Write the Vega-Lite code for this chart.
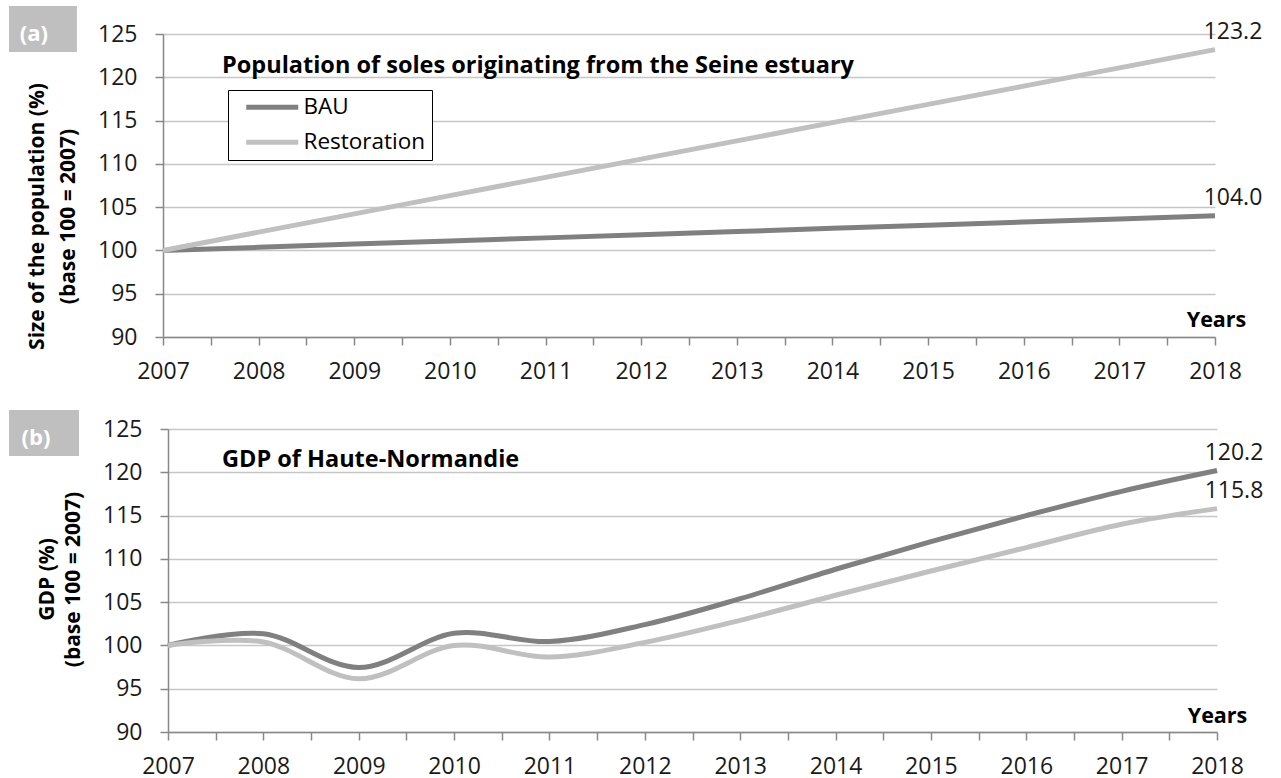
{
  "$schema": "https://vega.github.io/schema/vega-lite/v6.json",
  "padding": {"left": 9, "top": 6, "right": 5, "bottom": 5},
  "background": "white",
  "config": {
    "view": {"stroke": null},
    "font": "Open Sans",
    "axis": {
      "domainColor": "#888888", "domainWidth": 1.5,
      "tickColor": "#888888", "tickWidth": 1.5, "tickSize": 8,
      "labelFont": "Open Sans", "labelFontSize": 23, "labelColor": "#1a1a1a",
      "titleFont": "Open Sans", "titleColor": "#000000", "titleFontWeight": "bold",
      "gridColor": "#c6c6c6", "gridWidth": 1.5
    }
  },
  "datasets": {
    "sole": [
      {"year": 2007, "scenario": "BAU", "value": 100.0},
      {"year": 2008, "scenario": "BAU", "value": 100.36},
      {"year": 2009, "scenario": "BAU", "value": 100.73},
      {"year": 2010, "scenario": "BAU", "value": 101.09},
      {"year": 2011, "scenario": "BAU", "value": 101.45},
      {"year": 2012, "scenario": "BAU", "value": 101.82},
      {"year": 2013, "scenario": "BAU", "value": 102.18},
      {"year": 2014, "scenario": "BAU", "value": 102.55},
      {"year": 2015, "scenario": "BAU", "value": 102.91},
      {"year": 2016, "scenario": "BAU", "value": 103.27},
      {"year": 2017, "scenario": "BAU", "value": 103.64},
      {"year": 2018, "scenario": "BAU", "value": 104.0},
      {"year": 2007, "scenario": "Restoration", "value": 100.0},
      {"year": 2008, "scenario": "Restoration", "value": 102.11},
      {"year": 2009, "scenario": "Restoration", "value": 104.22},
      {"year": 2010, "scenario": "Restoration", "value": 106.33},
      {"year": 2011, "scenario": "Restoration", "value": 108.44},
      {"year": 2012, "scenario": "Restoration", "value": 110.55},
      {"year": 2013, "scenario": "Restoration", "value": 112.65},
      {"year": 2014, "scenario": "Restoration", "value": 114.76},
      {"year": 2015, "scenario": "Restoration", "value": 116.87},
      {"year": 2016, "scenario": "Restoration", "value": 118.98},
      {"year": 2017, "scenario": "Restoration", "value": 121.09},
      {"year": 2018, "scenario": "Restoration", "value": 123.2}
    ],
    "gdp": [
      {"year": 2007, "scenario": "BAU", "value": 100.0},
      {"year": 2008, "scenario": "BAU", "value": 101.35},
      {"year": 2009, "scenario": "BAU", "value": 97.45},
      {"year": 2010, "scenario": "BAU", "value": 101.4},
      {"year": 2011, "scenario": "BAU", "value": 100.45},
      {"year": 2012, "scenario": "BAU", "value": 102.4},
      {"year": 2013, "scenario": "BAU", "value": 105.4},
      {"year": 2014, "scenario": "BAU", "value": 108.8},
      {"year": 2015, "scenario": "BAU", "value": 112.0},
      {"year": 2016, "scenario": "BAU", "value": 115.0},
      {"year": 2017, "scenario": "BAU", "value": 117.8},
      {"year": 2018, "scenario": "BAU", "value": 120.2},
      {"year": 2007, "scenario": "Restoration", "value": 100.0},
      {"year": 2008, "scenario": "Restoration", "value": 100.4},
      {"year": 2009, "scenario": "Restoration", "value": 96.15},
      {"year": 2010, "scenario": "Restoration", "value": 100.0},
      {"year": 2011, "scenario": "Restoration", "value": 98.65},
      {"year": 2012, "scenario": "Restoration", "value": 100.35},
      {"year": 2013, "scenario": "Restoration", "value": 102.9},
      {"year": 2014, "scenario": "Restoration", "value": 105.8},
      {"year": 2015, "scenario": "Restoration", "value": 108.6},
      {"year": 2016, "scenario": "Restoration", "value": 111.3},
      {"year": 2017, "scenario": "Restoration", "value": 114.0},
      {"year": 2018, "scenario": "Restoration", "value": 115.8}
    ]
  },
  "resolve": {"legend": {"color": "independent"}},
  "spacing": 27,
  "vconcat": [
    {
      "width": 1052,
      "height": 303,
      "layer": [
        {
          "data": {"name": "sole"},
          "mark": {"type": "line", "strokeWidth": 5},
          "encoding": {
            "x": {
              "field": "year", "type": "quantitative",
              "scale": {"domain": [2007, 2018], "nice": false, "zero": false},
              "axis": {
                "values": [2007, 2007.5, 2008, 2008.5, 2009, 2009.5, 2010, 2010.5, 2011, 2011.5, 2012, 2012.5, 2013, 2013.5, 2014, 2014.5, 2015, 2015.5, 2016, 2016.5, 2017, 2017.5, 2018],
                "labelExpr": "datum.value % 1 === 0 ? format(datum.value, 'd') : ''",
                "labelFlush": false, "labelOverlap": false, "labelPadding": 15,
                "grid": false,
                "title": "Years", "titleFontSize": 21.5,
                "titleX": 1053, "titleY": -11, "titleAlign": "center", "titleBaseline": "alphabetic", "titleAnchor": "end"
              }
            },
            "y": {
              "field": "value", "type": "quantitative",
              "scale": {"domain": [90, 125], "nice": false, "zero": false},
              "axis": {
                "values": [90, 95, 100, 105, 110, 115, 120, 125],
                "format": "d", "labelPadding": 18, "grid": true,
                "title": ["Size of the population (%)", "(base 100 = 2007)"],
                "titleFontSize": 21, "titleLineHeight": 31,
                "titleAngle": -90, "titleX": -126, "titleY": 182,
                "titleAlign": "center", "titleBaseline": "middle"
              }
            },
            "color": {
              "field": "scenario", "type": "nominal",
              "scale": {"domain": ["BAU", "Restoration"], "range": ["#808080", "#c0c0c0"]},
              "legend": {
                "orient": "none", "legendX": 65, "legendY": 56, "title": null,
                "strokeColor": "#000000", "fillColor": "#ffffff", "padding": 6,
                "symbolType": "M-5.2,0L5.2,0", "symbolSize": 100, "symbolStrokeWidth": 5,
                "symbolOffset": 27, "labelFontSize": 22.5, "labelFont": "Open Sans",
                "labelColor": "#000000", "labelOffset": 20, "rowPadding": 12,
                "labelExpr": "datum.label + '\u00a0\u00a0\u00a0'"
              }
            }
          }
        },
        {
          "data": {"name": "sole"},
          "transform": [{"filter": "datum.year == 2018"}],
          "mark": {"type": "text", "dx": 18, "dy": -18, "fontSize": 23, "align": "center", "baseline": "middle", "color": "#1a1a1a"},
          "encoding": {
            "x": {"field": "year", "type": "quantitative"},
            "y": {"field": "value", "type": "quantitative"},
            "text": {"field": "value", "type": "quantitative", "format": ".1f"}
          }
        },
        {
          "data": {"values": [{"label": "(a)"}]},
          "mark": {"type": "rect", "color": "#bfbfbf"},
          "encoding": {
            "x": {"datum": 2005.39, "type": "quantitative"},
            "x2": {"datum": 2006.1},
            "y": {"datum": 128.23, "type": "quantitative"},
            "y2": {"datum": 122.92}
          }
        },
        {
          "data": {"values": [{"label": "(a)"}]},
          "mark": {"type": "text", "color": "#ffffff", "fontWeight": "bold", "fontSize": 22, "align": "center", "baseline": "middle"},
          "encoding": {
            "x": {"datum": 2005.65, "type": "quantitative"},
            "y": {"datum": 125, "type": "quantitative"},
            "text": {"field": "label"}
          }
        },
        {
          "data": {"values": [{"label": "Population of soles originating from the Seine estuary"}]},
          "mark": {"type": "text", "color": "#000000", "fontWeight": "bold", "fontSize": 23.5, "align": "left", "baseline": "middle"},
          "encoding": {
            "x": {"datum": 2007.617, "type": "quantitative"},
            "y": {"datum": 121.3, "type": "quantitative"},
            "text": {"field": "label"}
          }
        }
      ]
    },
    {
      "width": 1054,
      "height": 303,
      "layer": [
        {
          "data": {"name": "gdp"},
          "mark": {"type": "line", "strokeWidth": 5, "interpolate": "cardinal"},
          "encoding": {
            "x": {
              "field": "year", "type": "quantitative",
              "scale": {"domain": [2007, 2018], "nice": false, "zero": false, "range": [5, 1054]},
              "axis": {
                "values": [2007, 2007.5, 2008, 2008.5, 2009, 2009.5, 2010, 2010.5, 2011, 2011.5, 2012, 2012.5, 2013, 2013.5, 2014, 2014.5, 2015, 2015.5, 2016, 2016.5, 2017, 2017.5, 2018],
                "labelExpr": "datum.value % 1 === 0 ? format(datum.value, 'd') : ''",
                "labelFlush": false, "labelOverlap": false, "labelPadding": 15,
                "grid": false,
                "title": "Years", "titleFontSize": 21.5,
                "titleX": 1054, "titleY": -10, "titleAlign": "center", "titleBaseline": "alphabetic", "titleAnchor": "end"
              }
            },
            "y": {
              "field": "value", "type": "quantitative",
              "scale": {"domain": [90, 125], "nice": false, "zero": false},
              "axis": {
                "values": [90, 95, 100, 105, 110, 115, 120, 125],
                "format": "d", "labelPadding": 18, "grid": true, "offset": -5,
                "title": ["GDP (%)", "(base 100 = 2007)"],
                "titleFontSize": 21, "titleLineHeight": 26,
                "titleAngle": -90, "titleX": -121, "titleY": 150,
                "titleAlign": "center", "titleBaseline": "middle"
              }
            },
            "color": {
              "field": "scenario", "type": "nominal",
              "scale": {"domain": ["BAU", "Restoration"], "range": ["#808080", "#c0c0c0"]},
              "legend": null
            }
          }
        },
        {
          "data": {"name": "gdp"},
          "transform": [{"filter": "datum.year == 2018"}],
          "mark": {"type": "text", "dx": 17, "dy": -18, "fontSize": 23, "align": "center", "baseline": "middle", "color": "#1a1a1a"},
          "encoding": {
            "x": {"field": "year", "type": "quantitative"},
            "y": {"field": "value", "type": "quantitative"},
            "text": {"field": "value", "type": "quantitative", "format": ".1f"}
          }
        },
        {
          "data": {"values": [{"label": "(b)"}]},
          "mark": {"type": "rect", "color": "#bfbfbf"},
          "encoding": {
            "x": {"datum": 2005.333, "type": "quantitative"},
            "x2": {"datum": 2006.067},
            "y": {"datum": 127.19, "type": "quantitative"},
            "y2": {"datum": 121.89}
          }
        },
        {
          "data": {"values": [{"label": "(b)"}]},
          "mark": {"type": "text", "color": "#ffffff", "fontWeight": "bold", "fontSize": 22, "align": "center", "baseline": "middle"},
          "encoding": {
            "x": {"datum": 2005.616, "type": "quantitative"},
            "y": {"datum": 124.0, "type": "quantitative"},
            "text": {"field": "label"}
          }
        },
        {
          "data": {"values": [{"label": "GDP of Haute-Normandie"}]},
          "mark": {"type": "text", "color": "#000000", "fontWeight": "bold", "fontSize": 23.5, "align": "left", "baseline": "middle"},
          "encoding": {
            "x": {"datum": 2007.566, "type": "quantitative"},
            "y": {"datum": 121.4, "type": "quantitative"},
            "text": {"field": "label"}
          }
        }
      ]
    }
  ]
}
